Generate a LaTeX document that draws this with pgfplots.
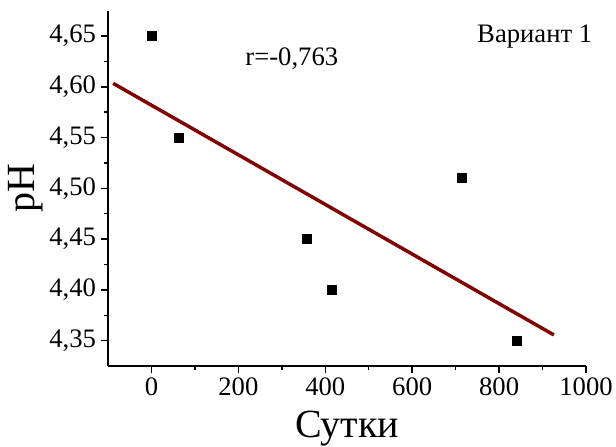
\documentclass[border=0pt]{standalone}
\usepackage{pgfplots}
\pgfplotsset{compat=1.18}
\usepackage{fontspec}
\setmainfont{Liberation Serif}
\definecolor{fitred}{RGB}{128,0,0}
\begin{document}
\begin{tikzpicture}[x=1pt,y=1pt]
\begin{axis}[
  scale only axis,
  width=358.5pt, height=266.5pt,
  xmin=-100, xmax=1000, ymin=4.325, ymax=4.675,
  axis x line*=bottom, axis y line*=left,
  axis line style={line width=1.1pt, -},
  xtick={0,200,400,600,800,1000},
  ytick={4.35,4.40,4.45,4.50,4.55,4.60,4.65},
  minor x tick num=1, minor y tick num=1,
  tick align=outside,
  major tick length=5.5pt, minor tick length=3pt,
  every tick/.style={line width=1.1pt, black},
  tick label style={font=\fontsize{20}{22}\selectfont},
  /pgf/number format/assume math mode=true,
  yticklabel style={/pgf/number format/.cd, fixed, fixed zerofill, precision=2, use comma},
  xticklabel style={/pgf/number format/.cd, 1000 sep={}},
  xlabel={Сутки}, ylabel={pH},
  label style={font=\fontsize{30}{32}\selectfont},
  xlabel style={yshift=-4pt},
  ylabel style={yshift=-2pt},
  clip=false,
]
\addplot[only marks, mark=square*, mark size=3.4pt, black] coordinates {
  (0,4.65) (62,4.55) (357,4.45) (414,4.40) (714,4.51) (840,4.35)
};
\addplot[color=fitred, line width=2.6pt] coordinates {
  (-88,4.6034) (926,4.3556)
};
\node[font=\fontsize{20}{22}\selectfont] at (axis cs:323,4.628) {r=-0,763};
\node[font=\fontsize{20}{22}\selectfont] at (axis cs:882,4.650) {Вариант 1};
\end{axis}
\pgfresetboundingbox
\useasboundingbox (-81pt,-60pt) rectangle (381pt,274.5pt);
\end{tikzpicture}
\end{document}
